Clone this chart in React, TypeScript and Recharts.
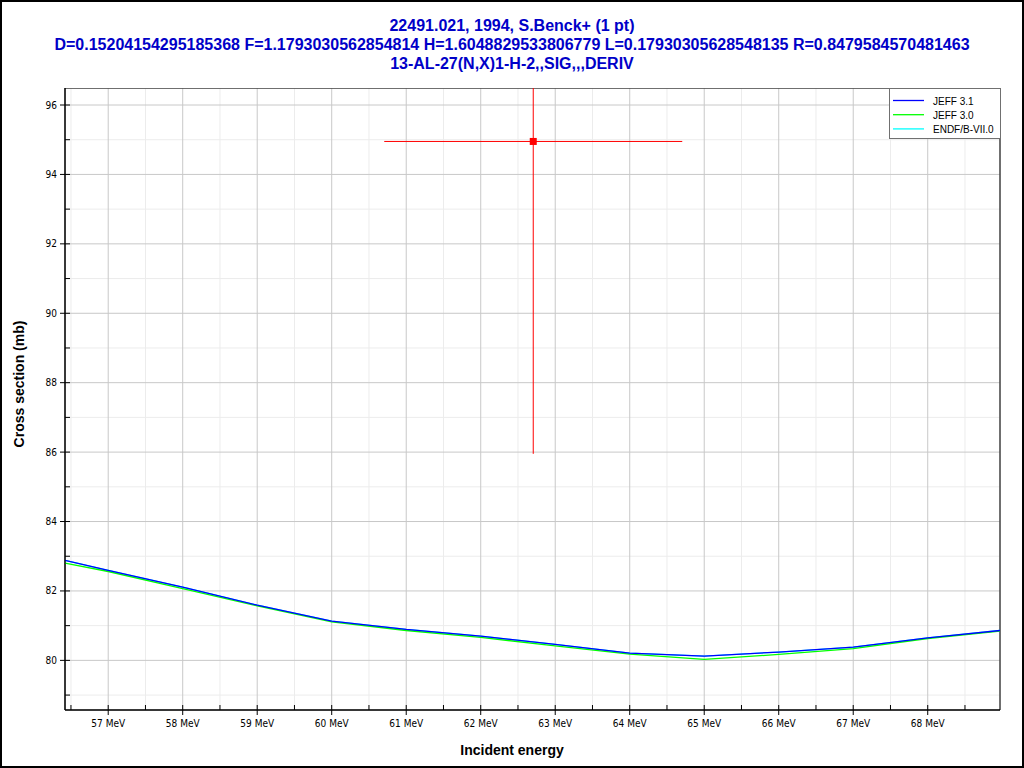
import React from 'react';
import {
  ComposedChart,
  Line,
  Scatter,
  ErrorBar,
  XAxis,
  YAxis,
  CartesianGrid,
  ReferenceArea,
} from 'recharts';

// ---- data ----
const energies = [56.42, 57, 58, 59, 60, 61, 62, 63, 64, 65, 66, 67, 68, 68.97];
const jeff31 = [82.88, 82.59, 82.11, 81.59, 81.13, 80.89, 80.7, 80.46, 80.21, 80.12, 80.24, 80.38, 80.65, 80.86];
const jeff30 = [82.8, 82.56, 82.07, 81.57, 81.11, 80.86, 80.66, 80.42, 80.18, 80.03, 80.17, 80.34, 80.63, 80.84];
const endf70 = [82.88, 82.59, 82.11, 81.59, 81.13, 80.89, 80.7, 80.46, 80.21, 80.12, 80.24, 80.38, 80.65, 80.86];

const expEnergy = [62.705];
const expSigma = [94.95];
const expDE = [2.0];
const expDS = [9.0];

const xMajorTicks = [57, 58, 59, 60, 61, 62, 63, 64, 65, 66, 67, 68];
const xMinorTicks = [56.5, 57.5, 58.5, 59.5, 60.5, 61.5, 62.5, 63.5, 64.5, 65.5, 66.5, 67.5, 68.5];
const yMajorTicks = [80, 82, 84, 86, 88, 90, 92, 94, 96];
const yMinorTicks = [79, 81, 83, 85, 87, 89, 91, 93, 95];
const xDomain: [number, number] = [56.42, 68.97];
const yDomain: [number, number] = [78.57, 96.49];

const titleLines = [
  '22491.021, 1994, S.Benck+ (1 pt)',
  'D=0.15204154295185368 F=1.1793030562854814 H=1.6048829533806779 L=0.17930305628548135 R=0.8479584570481463',
  '13-AL-27(N,X)1-H-2,,SIG,,,DERIV',
];
const legendItems = [
  { name: 'JEFF 3.1', color: '#0000ff' },
  { name: 'JEFF 3.0', color: '#00ff00' },
  { name: 'ENDF/B-VII.0', color: '#00ffff' },
];

const rows = energies.map((e, i) => ({ e, j31: jeff31[i], j30: jeff30[i], endf: endf70[i] }));
const expRows = expEnergy.map((e, i) => ({ e, s: expSigma[i], dx: expDE[i], dy: expDS[i] }));

const xAllTicks = [...xMajorTicks, ...xMinorTicks].sort((a, b) => a - b);
const yAllTicks = [...yMajorTicks, ...yMinorTicks].sort((a, b) => a - b);

const tickFont = "'Liberation Sans Narrow', 'DejaVu Sans Condensed', 'Liberation Sans', Arial, sans-serif";
const mainFont = "'Liberation Sans', Arial, sans-serif";

const XTick = (props: any) => {
  const { x, y, payload } = props;
  const v = payload.value as number;
  const major = xMajorTicks.includes(v);
  return (
    <g>
      <line x1={x} x2={x} y1={y - 5} y2={major ? y + 5 : y} stroke="#000" strokeWidth={1} />
      {major && (
        <text x={x} y={y + 17} textAnchor="middle" fontSize={10} fontFamily={tickFont} fill="#000">
          {`${v} MeV`}
        </text>
      )}
    </g>
  );
};

const YTick = (props: any) => {
  const { x, y, payload } = props;
  const v = payload.value as number;
  const major = yMajorTicks.includes(v);
  return (
    <g>
      <line x1={major ? x - 5 : x} x2={x + 5} y1={y} y2={y} stroke="#000" strokeWidth={1} />
      {major && (
        <text x={x - 8} y={y + 3.5} textAnchor="end" fontSize={10} fontFamily={tickFont} fill="#000">
          {v}
        </text>
      )}
    </g>
  );
};

const ExpPoint = (props: any) => {
  const { cx, cy } = props;
  return <rect x={cx - 3.5} y={cy - 3.5} width={7} height={7} fill="#ff0000" />;
};

export default function App() {
  return (
    <div style={{ position: 'fixed', left: 0, top: 0, width: 1024, height: 768, background: '#fff' }}>
      <ComposedChart
        width={1024}
        height={768}
        data={rows}
        margin={{ top: 88, right: 24, bottom: 28, left: 5 }}
      >
        <XAxis xAxisId="xmin" dataKey="e" type="number" domain={xDomain} allowDataOverflow ticks={xMinorTicks} hide />
        <XAxis xAxisId="xmaj" dataKey="e" type="number" domain={xDomain} allowDataOverflow ticks={xMajorTicks} hide />
        <YAxis yAxisId="ymin" type="number" domain={yDomain} allowDataOverflow ticks={yMinorTicks} hide />
        <YAxis yAxisId="ymaj" type="number" domain={yDomain} allowDataOverflow ticks={yMajorTicks} hide />
        <CartesianGrid xAxisId="xmin" yAxisId="ymin" stroke="#ececec" strokeWidth={1} />
        <CartesianGrid xAxisId="xmaj" yAxisId="ymaj" stroke="#c8c8c8" strokeWidth={1} />
        <XAxis
          xAxisId="main"
          dataKey="e"
          type="number"
          domain={xDomain}
          allowDataOverflow
          ticks={xAllTicks}
          interval={0}
          tickSize={0}
          tickMargin={0}
          tickLine={false}
          tick={<XTick />}
          axisLine={{ stroke: '#000', strokeWidth: 1 }}
          height={30}
        />
        <YAxis
          yAxisId="main"
          type="number"
          domain={yDomain}
          allowDataOverflow
          ticks={yAllTicks}
          interval={0}
          tickSize={0}
          tickMargin={0}
          tickLine={false}
          tick={<YTick />}
          axisLine={{ stroke: '#000', strokeWidth: 1 }}
          width={60}
        />
        <ReferenceArea
          xAxisId="main"
          yAxisId="main"
          x1={xDomain[0]}
          x2={xDomain[1]}
          y1={yDomain[0]}
          y2={yDomain[1]}
          fill="none"
          fillOpacity={0}
          stroke="#000"
          strokeWidth={1}
          strokeOpacity={1}
          ifOverflow="visible"
        />
        <Line xAxisId="main" yAxisId="main" type="linear" dataKey="endf" stroke="#00ffff" strokeWidth={1.3} dot={false} isAnimationActive={false} />
        <Line xAxisId="main" yAxisId="main" type="linear" dataKey="j30" stroke="#00ff00" strokeWidth={1.3} dot={false} isAnimationActive={false} />
        <Line xAxisId="main" yAxisId="main" type="linear" dataKey="j31" stroke="#0000ff" strokeWidth={1.3} dot={false} isAnimationActive={false} />
        <Scatter
          xAxisId="main"
          yAxisId="main"
          data={expRows}
          dataKey="s"
          fill="#ff0000"
          shape={<ExpPoint />}
          isAnimationActive={false}
        >
          <ErrorBar dataKey="dx" direction="x" width={0} stroke="#ff0000" strokeWidth={1} style={{ stroke: '#ff0000' }} />
          <ErrorBar dataKey="dy" direction="y" width={0} stroke="#ff0000" strokeWidth={1} style={{ stroke: '#ff0000' }} />
        </Scatter>
      </ComposedChart>
      <svg
        width={1024}
        height={768}
        style={{ position: 'absolute', left: 0, top: 0, pointerEvents: 'none' }}
      >
        <rect x={0} y={0} width={1024} height={88} fill="#fff" />
        <rect x={1} y={1} width={1022} height={766} fill="none" stroke="#000" strokeWidth={2} />
        {titleLines.map((t, i) => (
          <text
            key={i}
            x={512}
            y={30.5 + i * 19}
            textAnchor="middle"
            fontFamily={mainFont}
            fontWeight="bold"
            fontSize={16}
            fill="#0000c8"
          >
            {t}
          </text>
        ))}
        <text x={512} y={755} textAnchor="middle" fontFamily={mainFont} fontWeight="bold" fontSize={14} fill="#000">
          Incident energy
        </text>
        <text
          x={0}
          y={0}
          transform="translate(24,384) rotate(-90)"
          textAnchor="middle"
          fontFamily={mainFont}
          fontWeight="bold"
          fontSize={14}
          fill="#000"
        >
          Cross section (mb)
        </text>
        <rect x={889.5} y={88.5} width={111} height={50} fill="#fff" stroke="#707070" strokeWidth={1} />
        {legendItems.map((it, i) => (
          <g key={it.name}>
            <line x1={893} x2={924} y1={100.5 + i * 14.2} y2={100.5 + i * 14.2} stroke={it.color} strokeWidth={1.3} />
            <text x={933} y={104.5 + i * 14.2} fontFamily={mainFont} fontSize={10} fill="#000">
              {it.name}
            </text>
          </g>
        ))}
      </svg>
    </div>
  );
}
